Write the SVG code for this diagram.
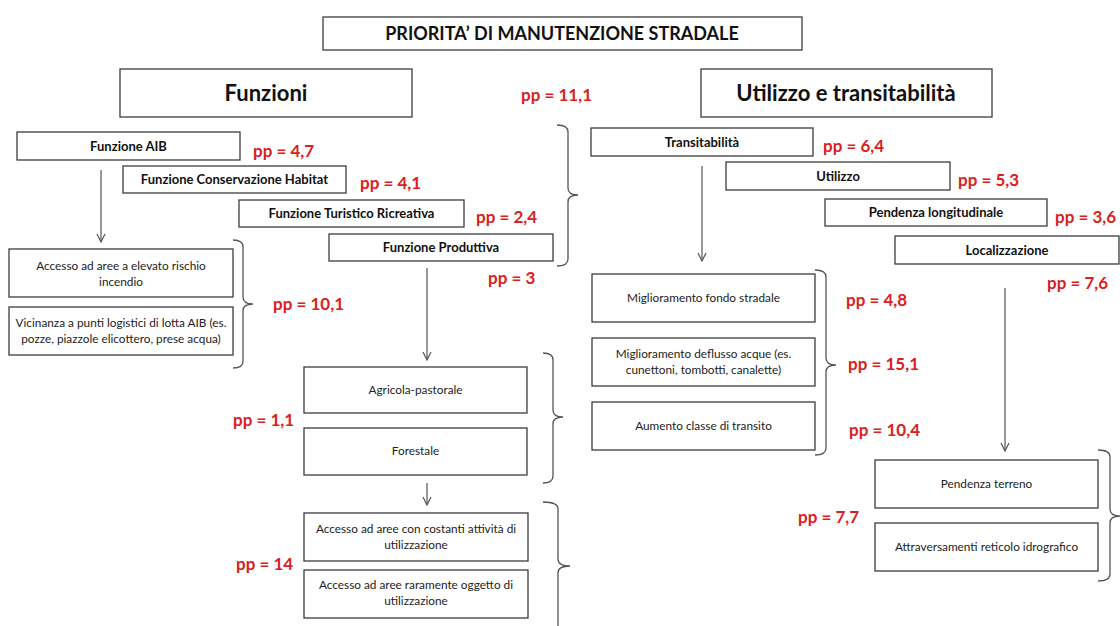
<svg xmlns="http://www.w3.org/2000/svg" width="1120" height="626" viewBox="0 0 1120 626">
  <defs>
    <style>
      .box { fill: #ffffff; stroke: #3c3c3c; stroke-width: 1.3; }
      .lbl { font-family: Lato, "Open Sans", "Liberation Sans", sans-serif; font-size: 13px; font-weight: 700; fill: #111; text-anchor: middle; }
      .txt { font-family: Lato, "Open Sans", "Liberation Sans", sans-serif; font-size: 11.8px; fill: #222; text-anchor: middle; }
      .head { font-family: Lato, "Open Sans", "Liberation Sans", sans-serif; font-size: 22px; font-weight: 700; fill: #111; text-anchor: middle; }
      .title { font-family: Lato, "Open Sans", "Liberation Sans", sans-serif; font-size: 18px; font-weight: 700; fill: #111; text-anchor: middle; }
      .pp { font-family: Lato, "Open Sans", "Liberation Sans", sans-serif; font-size: 17px; font-weight: 700; fill: #d92121; }
      .link { fill: none; stroke: #555; stroke-width: 1.2; }
      .brace { fill: none; stroke: #555; stroke-width: 1.3; }
    </style>
    <marker id="arrow" viewBox="0 0 10 10" refX="9" refY="5" markerWidth="10" markerHeight="10" markerUnits="userSpaceOnUse" orient="auto">
      <path d="M1,1 L9,5 L1,9" fill="none" stroke="#555" stroke-width="1.2"/>
    </marker>
  </defs>

  <rect width="1120" height="626" fill="#ffffff"/>

  <!-- title -->
  <g id="title">
    <rect class="box" x="323" y="17" width="479" height="33"/>
    <text class="title" x="562" y="40">PRIORITA’ DI MANUTENZIONE STRADALE</text>
  </g>

  <!-- column headings -->
  <g id="funzioni">
    <rect class="box" x="120" y="69" width="292" height="48"/>
    <text class="head" x="266" y="101">Funzioni</text>
  </g>
  <g id="utilizzo-transitabilita">
    <rect class="box" x="701" y="69" width="291" height="48"/>
    <text class="head" x="846" y="101">Utilizzo e transitabilità</text>
  </g>
  <text class="pp" x="521" y="101">pp = 11,1</text>

  <!-- left column: functions -->
  <g id="funzione-aib">
    <rect class="box" x="17" y="132" width="223" height="28"/>
    <text class="lbl" x="128.5" y="151">Funzione AIB</text>
    <text class="pp" x="253" y="157">pp = 4,7</text>
  </g>
  <g id="funzione-habitat">
    <rect class="box" x="123" y="166" width="223" height="27"/>
    <text class="lbl" x="234.5" y="184">Funzione Conservazione Habitat</text>
    <text class="pp" x="360" y="189">pp = 4,1</text>
  </g>
  <g id="funzione-turistica">
    <rect class="box" x="239" y="200" width="225" height="27"/>
    <text class="lbl" x="351.5" y="218">Funzione Turistico Ricreativa</text>
    <text class="pp" x="476" y="223">pp = 2,4</text>
  </g>
  <g id="funzione-produttiva">
    <rect class="box" x="329" y="234" width="224" height="27"/>
    <text class="lbl" x="441" y="252">Funzione Produttiva</text>
    <text class="pp" x="488" y="284">pp = 3</text>
  </g>

  <g id="aib-accesso">
    <rect class="box" x="9" y="249" width="224" height="48"/>
    <text class="txt" x="121" y="270">Accesso ad aree a elevato rischio</text>
    <text class="txt" x="121" y="286">incendio</text>
  </g>
  <g id="aib-vicinanza">
    <rect class="box" x="9" y="307" width="224" height="48"/>
    <text class="txt" x="121" y="327">Vicinanza a punti logistici di lotta AIB (es.</text>
    <text class="txt" x="121" y="343">pozze, piazzole elicottero, prese acqua)</text>
  </g>
  <text class="pp" x="273" y="310">pp = 10,1</text>

  <g id="agricola">
    <rect class="box" x="304" y="367" width="223" height="46"/>
    <text class="txt" x="415.5" y="394">Agricola-pastorale</text>
  </g>
  <g id="forestale">
    <rect class="box" x="304" y="428" width="223" height="47"/>
    <text class="txt" x="415.5" y="455">Forestale</text>
  </g>
  <text class="pp" x="233" y="426">pp = 1,1</text>

  <g id="utilizzazione-costante">
    <rect class="box" x="304" y="513" width="224" height="48"/>
    <text class="txt" x="416" y="533">Accesso ad aree con costanti attività di</text>
    <text class="txt" x="416" y="549">utilizzazione</text>
  </g>
  <g id="utilizzazione-rara">
    <rect class="box" x="304" y="570" width="224" height="48"/>
    <text class="txt" x="416" y="589">Accesso ad aree raramente oggetto di</text>
    <text class="txt" x="416" y="605">utilizzazione</text>
  </g>
  <text class="pp" x="236" y="570">pp = 14</text>

  <!-- right column: use and transitability -->
  <g id="transitabilita">
    <rect class="box" x="591" y="128" width="222" height="28"/>
    <text class="lbl" x="702" y="147">Transitabilità</text>
    <text class="pp" x="823" y="152">pp = 6,4</text>
  </g>
  <g id="utilizzo">
    <rect class="box" x="726" y="162" width="224" height="28"/>
    <text class="lbl" x="838" y="181">Utilizzo</text>
    <text class="pp" x="958" y="186">pp = 5,3</text>
  </g>
  <g id="pendenza-longitudinale">
    <rect class="box" x="825" y="199" width="222" height="27"/>
    <text class="lbl" x="936" y="217">Pendenza longitudinale</text>
    <text class="pp" x="1055" y="223">pp = 3,6</text>
  </g>
  <g id="localizzazione">
    <rect class="box" x="895" y="236" width="224" height="28"/>
    <text class="lbl" x="1007" y="255">Localizzazione</text>
    <text class="pp" x="1047" y="289">pp = 7,6</text>
  </g>

  <g id="fondo-stradale">
    <rect class="box" x="592" y="274" width="223" height="48"/>
    <text class="txt" x="703.5" y="302">Miglioramento fondo stradale</text>
    <text class="pp" x="846" y="306">pp = 4,8</text>
  </g>
  <g id="deflusso-acque">
    <rect class="box" x="592" y="338" width="223" height="48"/>
    <text class="txt" x="703.5" y="358">Miglioramento deflusso acque (es.</text>
    <text class="txt" x="703.5" y="374">cunettoni, tombotti, canalette)</text>
    <text class="pp" x="848" y="370">pp = 15,1</text>
  </g>
  <g id="classe-transito">
    <rect class="box" x="592" y="402" width="223" height="48"/>
    <text class="txt" x="703.5" y="430">Aumento classe di transito</text>
    <text class="pp" x="849" y="436">pp = 10,4</text>
  </g>

  <g id="pendenza-terreno">
    <rect class="box" x="875" y="460" width="223" height="48"/>
    <text class="txt" x="986.5" y="488">Pendenza terreno</text>
  </g>
  <g id="reticolo-idrografico">
    <rect class="box" x="875" y="523" width="223" height="48"/>
    <text class="txt" x="986.5" y="551">Attraversamenti reticolo idrografico</text>
  </g>
  <text class="pp" x="798" y="523">pp = 7,7</text>

  <!-- connectors and braces -->
  <g id="connectors">
    <line class="link" x1="101" y1="170" x2="101" y2="242" marker-end="url(#arrow)"/>
    <line class="link" x1="427" y1="268" x2="427" y2="360" marker-end="url(#arrow)"/>
    <line class="link" x1="427" y1="483" x2="427" y2="505" marker-end="url(#arrow)"/>
    <line class="link" x1="702" y1="166" x2="702" y2="261" marker-end="url(#arrow)"/>
    <line class="link" x1="1005" y1="288" x2="1005" y2="451" marker-end="url(#arrow)"/>

    <path class="brace" d="M557,125 Q568,125 568,132 L568,188 Q568,195 578,195 Q568,195 568,202 L568,259 Q568,266 557,266"/>
    <path class="brace" d="M233,240 Q243,240 243,247 L243,297 Q243,304 253,304 Q243,304 243,311 L243,361 Q243,368 233,368"/>
    <path class="brace" d="M543,353 Q553,353 553,360 L553,410 Q553,417 563,417 Q553,417 553,424 L553,476 Q553,483 543,483"/>
    <path class="brace" d="M543,502 Q558,502 558,509 L558,559 Q558,566 570,566 Q558,566 558,573 L558,630"/>
    <path class="brace" d="M815,270 Q826,270 826,277 L826,358 Q826,365 836,365 Q826,365 826,372 L826,448 Q826,455 815,455"/>
    <path class="brace" d="M1098,450 Q1110,450 1110,457 L1110,509 Q1110,516 1120,516 Q1110,516 1110,523 L1110,574 Q1110,581 1098,581"/>
  </g>
</svg>
